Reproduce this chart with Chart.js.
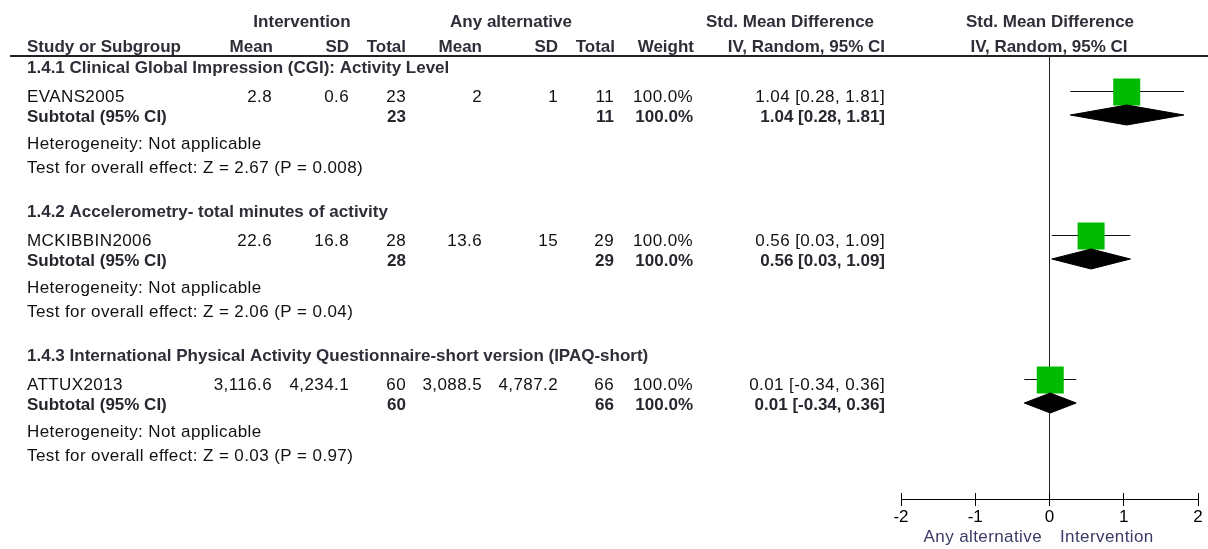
<!DOCTYPE html>
<html>
<head>
<meta charset="utf-8">
<script src="https://cdn.jsdelivr.net/npm/chart.js@4/dist/chart.umd.min.js"></script>
<style>
  html, body { margin: 0; padding: 0; background: #fff; }
  canvas { display: block; }
</style>
</head>
<body>
<canvas id="chart" width="1208" height="549"></canvas>
<script>
'use strict';

// data
const subgroups = [
  '1.4.1 Clinical Global Impression (CGI): Activity Level',
  '1.4.2 Accelerometry- total minutes of activity',
  '1.4.3 International Physical Activity Questionnaire-short version (IPAQ-short)'
];
const studies = ['EVANS2005', 'MCKIBBIN2006', 'ATTUX2013'];
const intMean = [2.8, 22.6, 3116.6];
const intSD = [0.6, 16.8, 4234.1];
const intTotal = [23, 28, 60];
const altMean = [2, 13.6, 3088.5];
const altSD = [1, 15, 4787.2];
const altTotal = [11, 29, 66];
const weights = [100, 100, 100];
const smd = [1.04, 0.56, 0.01];
const ciLow = [0.28, 0.03, -0.34];
const ciHigh = [1.81, 1.09, 0.36];
const zValues = ['2.67', '2.06', '0.03'];
const pValues = ['0.008', '0.04', '0.97'];
const xTicks = [-2, -1, 0, 1, 2];

// layout (row positions in canvas pixels, the y scale maps 1:1)
const groupStep = 144;
const studyY = studies.map((s, i) => 92 + i * groupStep);
const diamondY = studies.map((s, i) => 115 + i * groupStep);
const diamondHalf = 10;

const FONT = '"Liberation Sans", Arial, sans-serif';
const GREEN = '#00bb00';

function fmt(v) {
  return v.toLocaleString('en-US', { maximumFractionDigits: 1 });
}
function ciText(i) {
  return smd[i].toFixed(2) + ' [' + ciLow[i].toFixed(2) + ', ' + ciHigh[i].toFixed(2) + ']';
}

const datasets = [];

// diamonds (on top)
studies.forEach((s, i) => {
  datasets.push({
    data: [
      { x: ciLow[i], y: diamondY[i] },
      { x: smd[i], y: diamondY[i] - diamondHalf },
      { x: ciHigh[i], y: diamondY[i] },
      { x: smd[i], y: diamondY[i] + diamondHalf },
      { x: ciLow[i], y: diamondY[i] }
    ],
    borderColor: '#000',
    backgroundColor: '#000',
    borderWidth: 1,
    fill: 'shape',
    pointRadius: 0,
    tension: 0,
    order: 0
  });
});

// study squares
datasets.push({
  data: studies.map((s, i) => ({ x: smd[i], y: studyY[i] })),
  showLine: false,
  pointStyle: 'rect',
  pointRadius: weights.map(w => 13.5 * Math.sqrt(w / 100) * Math.SQRT2),
  pointBackgroundColor: GREEN,
  pointBorderWidth: 0,
  order: 1
});

// confidence interval whiskers
studies.forEach((s, i) => {
  datasets.push({
    data: [{ x: ciLow[i], y: studyY[i] - 0.5 }, { x: ciHigh[i], y: studyY[i] - 0.5 }],
    borderColor: '#111',
    borderWidth: 1,
    pointRadius: 0,
    order: 2
  });
});

// line of no effect
datasets.push({
  data: [{ x: 0, y: 56 }, { x: 0, y: 499 }],
  borderColor: '#222',
  borderWidth: 1,
  pointRadius: 0,
  order: 3
});

const tablePlugin = {
  id: 'tableText',
  afterDraw(chart) {
    const ctx = chart.ctx;
    const xs = chart.scales.x;
    ctx.save();

    // header rule
    ctx.fillStyle = '#222';
    ctx.fillRect(10, 55, 1198, 2);

    // inward halves of the axis ticks
    ctx.strokeStyle = '#000';
    ctx.lineWidth = 1;
    xTicks.forEach(v => {
      const px = Math.floor(xs.getPixelForValue(v)) + 0.5;
      ctx.beginPath();
      ctx.moveTo(px, 493);
      ctx.lineTo(px, 499);
      ctx.stroke();
    });

    const put = (txt, x, y, align, bold, color) => {
      ctx.font = (bold ? 'bold ' : '') + '17px ' + FONT;
      ctx.letterSpacing = bold ? '0px' : '0.4px';
      ctx.textAlign = align;
      ctx.textBaseline = 'alphabetic';
      ctx.fillStyle = color || (bold ? '#2e2e38' : '#111');
      ctx.fillText(txt, x, y);
    };

    // column headers
    put('Intervention', 302, 27, 'center', true);
    put('Any alternative', 511, 27, 'center', true);
    put('Std. Mean Difference', 790, 27, 'center', true);
    put('Std. Mean Difference', 1050, 27, 'center', true);
    put('Study or Subgroup', 27, 52, 'left', true);
    put('Mean', 273, 52, 'right', true);
    put('SD', 349, 52, 'right', true);
    put('Total', 406, 52, 'right', true);
    put('Mean', 482, 52, 'right', true);
    put('SD', 558, 52, 'right', true);
    put('Total', 615, 52, 'right', true);
    put('Weight', 694, 52, 'right', true);
    put('IV, Random, 95% CI', 885, 52, 'right', true);
    put('IV, Random, 95% CI', 1049, 52, 'center', true);

    studies.forEach((s, i) => {
      const o = i * groupStep;
      put(subgroups[i], 27, 73 + o, 'left', true);

      put(s, 27, 102 + o, 'left', false);
      put(fmt(intMean[i]), 272, 102 + o, 'right', false);
      put(fmt(intSD[i]), 349, 102 + o, 'right', false);
      put(String(intTotal[i]), 406, 102 + o, 'right', false);
      put(fmt(altMean[i]), 482, 102 + o, 'right', false);
      put(fmt(altSD[i]), 558, 102 + o, 'right', false);
      put(String(altTotal[i]), 614, 102 + o, 'right', false);
      put(weights[i].toFixed(1) + '%', 693, 102 + o, 'right', false);
      put(ciText(i), 885, 102 + o, 'right', false);

      put('Subtotal (95% CI)', 27, 122 + o, 'left', true, '#26262e');
      put(String(intTotal[i]), 406, 122 + o, 'right', true, '#26262e');
      put(String(altTotal[i]), 614, 122 + o, 'right', true, '#26262e');
      put(weights[i].toFixed(1) + '%', 693, 122 + o, 'right', true, '#26262e');
      put(ciText(i), 885, 122 + o, 'right', true, '#26262e');

      put('Heterogeneity: Not applicable', 27, 149 + o, 'left', false);
      put('Test for overall effect: Z = ' + zValues[i] + ' (P = ' + pValues[i] + ')', 27, 173 + o, 'left', false);
    });

    // favours labels under the axis
    put('Any alternative', 1042, 542, 'right', false, '#3a3a66');
    put('Intervention', 1060, 542, 'left', false, '#3a3a66');

    ctx.restore();
  }
};

const ctx = document.getElementById('chart').getContext('2d');
new Chart(ctx, {
  type: 'line',
  data: { datasets: datasets },
  options: {
    responsive: false,
    animation: false,
    devicePixelRatio: 1,
    layout: { autoPadding: false, padding: { left: 901, right: 10, top: 55, bottom: 0 } },
    plugins: {
      legend: { display: false },
      tooltip: { enabled: false }
    },
    scales: {
      x: {
        type: 'linear',
        min: -2,
        max: 2,
        afterFit(scale) {
          scale.height = 50;
          scale.paddingLeft = 0;
          scale.paddingRight = 0;
        },
        afterBuildTicks(scale) { scale.ticks = xTicks.map(v => ({ value: v })); },
        grid: { drawOnChartArea: false, drawTicks: true, tickLength: 7, color: '#000' },
        border: { display: true, color: '#000', width: 1 },
        ticks: {
          color: '#000',
          padding: 1,
          autoSkip: false,
          maxRotation: 0,
          font: { family: FONT, size: 17 }
        }
      },
      y: {
        type: 'linear',
        display: false,
        reverse: true,
        min: 55,
        max: 499
      }
    }
  },
  plugins: [tablePlugin]
});
</script>
</body>
</html>
